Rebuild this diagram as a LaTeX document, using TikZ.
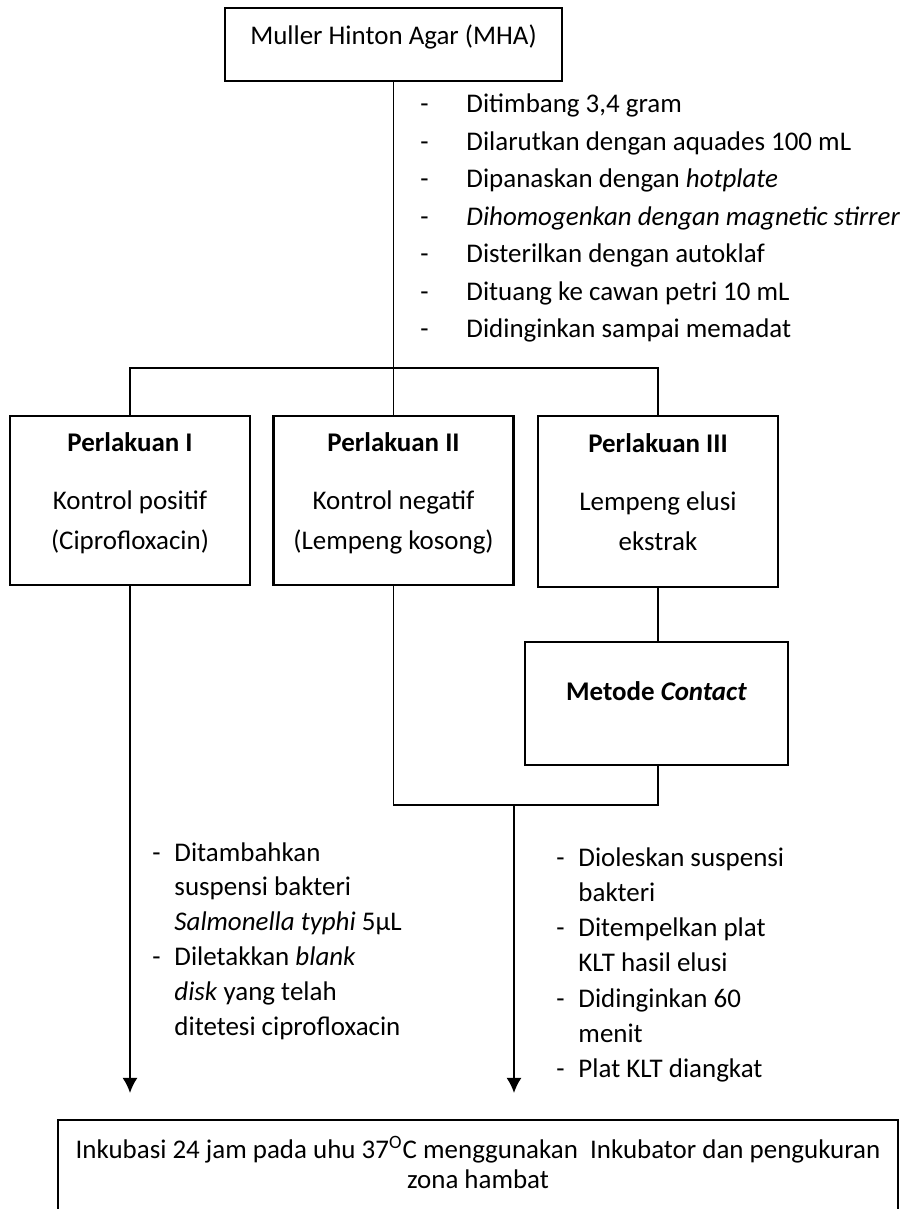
\documentclass[tikz,border=0pt]{standalone}
\usepackage{fontspec}
\setmainfont{Carlito}
\usetikzlibrary{arrows.meta}
\tikzset{
  box/.style={draw,line width=1pt,align=center,inner sep=2pt,font=\fontsize{11.5}{17}\selectfont},
  conn/.style={line width=0.8pt},
  arr/.style={conn,-{Latex[length=6.5pt,width=6.5pt]}},
  item/.style={anchor=base west,inner sep=0pt,font=\fontsize{11.5}{14}\selectfont}
}
\begin{document}
\begin{tikzpicture}[x=0.015cm,y=-0.015cm]
\useasboundingbox (0,0) rectangle (900,1209);
% boxes
\node[box,minimum width=5.055cm,minimum height=1.095cm,text depth=8pt] (mha) at (393.5,44.5) {Muller Hinton Agar (MHA)};
\node[box,minimum width=3.6cm,minimum height=2.535cm,text depth=8pt] (p1) at (130,500.5) {\textbf{Perlakuan I}\\[8pt]Kontrol positif\\(Ciprofloxacin)};
\node[box,minimum width=3.6cm,minimum height=2.535cm,text depth=8pt] (p2) at (393.5,500.5) {\textbf{Perlakuan II}\\[8pt]Kontrol negatif\\(Lempeng kosong)};
\node[box,minimum width=3.6cm,minimum height=2.565cm,text depth=8pt] (p3) at (658,501.5) {\textbf{Perlakuan III}\\[8pt]Lempeng elusi\\ekstrak};
\node[box,minimum width=3.945cm,minimum height=1.845cm,text depth=11pt] (metode) at (656.5,703.5) {\textbf{Metode \textit{Contact}}};
\node[box,font=\fontsize{11.5}{13}\selectfont,minimum width=12.6cm,minimum height=1.44cm,text depth=5pt,anchor=north] (inkub) at (478,1119) {Inkubasi 24 jam pada uhu 37\textsuperscript{O}C menggunakan\ \ Inkubator dan pengukuran\\zona hambat};
% connectors
\coordinate (bar) at (393,368);
\coordinate (join) at (514,805);
\coordinate (tipR) at (514,1093);
\draw[conn] (p2.north |- mha.south) -- (p2.north);
\draw[conn] (p1.north) -- (p1.north |- bar) -- (p3.north |- bar) -- (p3.north);
\draw[conn] (p3.south) -- (p3.south |- metode.north);
\draw[conn] (p2.south) -- (p2.south |- join) -- (p3.south |- join) -- (p3.south |- metode.south);
\draw[arr] (join) -- (tipR);
\draw[arr] (p1.south) -- (p1.south |- tipR);
% steps
\foreach \t [count=\i] in {{Ditimbang 3,4 gram},{Dilarutkan dengan aquades 100 mL},{Dipanaskan dengan \textit{hotplate}},{\textit{Dihomogenkan dengan magnetic stirrer}},{Disterilkan dengan autoklaf},{Dituang ke cawan petri 10 mL},{Didinginkan sampai memadat}}
  \node[item] (s\i) at (420,{113+37.4*(\i-1)}) {\makebox[0.69cm][l]{-}\t};
\foreach \d/\t [count=\i] in {-/Ditambahkan,/suspensi bakteri,/{\textit{Salmonella typhi} 5µL},-/{Diletakkan \textit{blank}},/{\textit{disk} yang telah},/ditetesi ciprofloxacin}
  \node[item] (a\i) at (152,{861+34.8*(\i-1)}) {\makebox[0.33cm][l]{\d}\t};
\foreach \d/\t [count=\i] in {-/Dioleskan suspensi,/bakteri,-/Ditempelkan plat,/KLT hasil elusi,-/Didinginkan 60,/menit,-/Plat KLT diangkat}
  \node[item] (b\i) at (556,{866+35.3*(\i-1)}) {\makebox[0.33cm][l]{\d}\t};
\end{tikzpicture}
\end{document}
